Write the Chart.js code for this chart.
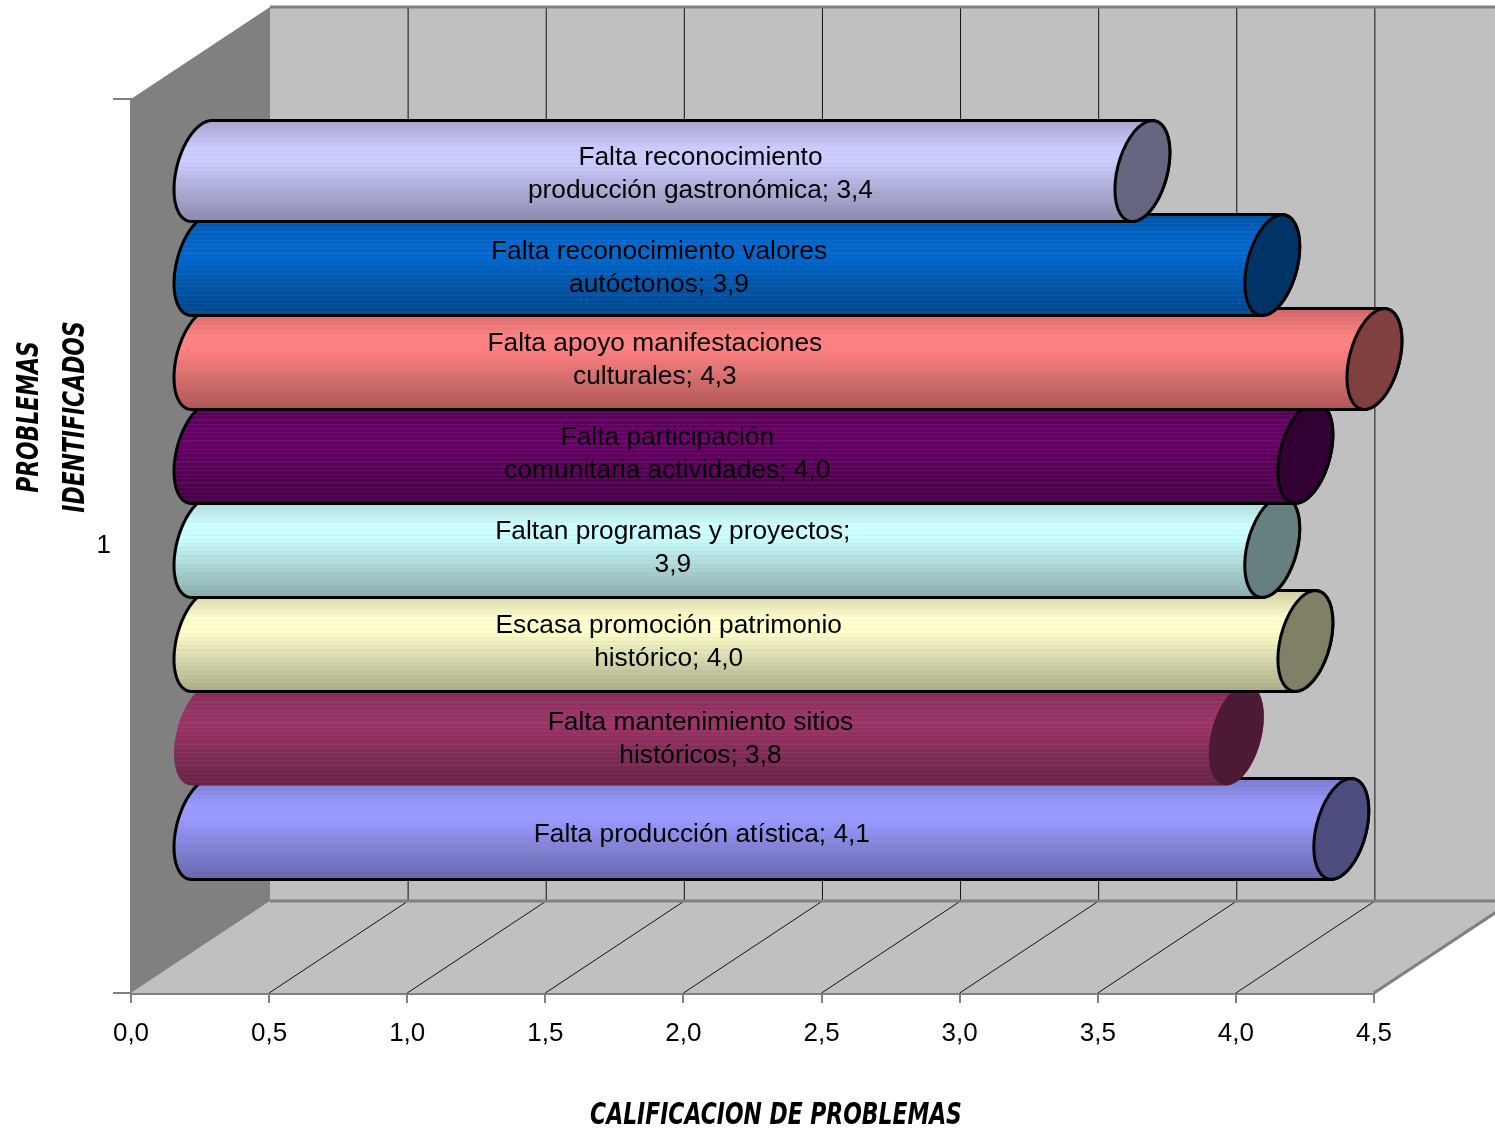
<!DOCTYPE html>
<html lang="es">
<head>
    <meta charset="UTF-8">
    <title>Calificación de problemas</title>
    <script src="https://cdn.jsdelivr.net/npm/chart.js"></script>
    <style>
        body { margin: 0; background: #fff; }
        canvas { display: block; }
    </style>
</head>
<body>
    <canvas id="chart" width="1495" height="1134"></canvas>
    <script>
        // datos
        const categories = ["1"];
        const problems = [
            ["Falta reconocimiento", "producción gastronómica; 3,4"],
            ["Falta reconocimiento valores", "autóctonos; 3,9"],
            ["Falta apoyo manifestaciones", "culturales; 4,3"],
            ["Falta participación", "comunitaria actividades; 4,0"],
            ["Faltan programas y proyectos;", "3,9"],
            ["Escasa promoción patrimonio", "histórico; 4,0"],
            ["Falta mantenimiento sitios", "históricos; 3,8"],
            ["Falta producción atística; 4,1"]
        ];
        const scores = [3.41, 3.88, 4.25, 4.0, 3.88, 4.0, 3.75, 4.13];
        const colors = ["#CCCCFF", "#0066CC", "#FF8080", "#660066", "#CCFFFF", "#FFFFCC", "#993366", "#9999FF"];
        const xTicks = [0, 0.5, 1, 1.5, 2, 2.5, 3, 3.5, 4, 4.5];

        // posicion de las etiquetas (en unidades del eje) y ajuste vertical
        const labelAt = [1.81, 1.66, 1.645, 1.69, 1.71, 1.695, 1.81, 1.815];
        const labelDy = [3.5, 3.5, 1, 1.5, 1.5, 1.5, 4, 6];
        const noOutline = [6];

        // perspectiva
        const DEPTH_X = 139, DEPTH_Y = -92;
        const CAP_X = 27.5, CAP_Y = -18.4;
        const FONT = '"Liberation Sans", Arial, sans-serif';
        const TITLE_FONT = 'italic bold 30px "DejaVu Sans", sans-serif';

        function rgb(hex) {
            return [1, 3, 5].map(i => parseInt(hex.substr(i, 2), 16));
        }
        function shade(c, k) {
            return `rgb(${c.map(v => Math.round(v * k)).join(",")})`;
        }
        function shadeAt(p) {
            if (p < 0.25) return 0.82 + 0.18 * p / 0.25;
            if (p < 0.38) return 1;
            return 1 - 0.34 * (p - 0.38) / 0.62;
        }

        function bodyFill(ctx, top, bottom, hex) {
            const c = rgb(hex);
            const g = ctx.createLinearGradient(0, top, 0, bottom);
            const bands = 24, line = 0.012;
            for (let k = 0; k < bands; k++) {
                const a = k / bands, b = (k + 1) / bands;
                const base = shadeAt(a);
                const stripe = c.map(v => v * base * 0.92 + 170 * 0.08);
                g.addColorStop(a, shade(stripe, 1));
                g.addColorStop(a + line, shade(stripe, 1));
                g.addColorStop(a + line, shade(c, base));
                g.addColorStop(b, shade(c, base));
            }
            return g;
        }

        function arcTo(ctx, cx, cy, h, from, to) {
            const steps = 40;
            for (let i = 0; i <= steps; i++) {
                const t = from + (to - from) * i / steps;
                ctx.lineTo(cx + Math.sin(t) * CAP_X, cy + Math.cos(t) * h + Math.sin(t) * CAP_Y);
            }
        }

        function drawCylinder(ctx, bar, index) {
            const h = bar.height / 2;
            const cy = bar.y + DEPTH_Y / 2;
            const x0 = bar.base + DEPTH_X / 2;
            const x1 = bar.x + DEPTH_X / 2;
            const tb = Math.atan2(CAP_Y, h);
            const tt = tb + Math.PI;
            const r = Math.hypot(h, CAP_Y);
            const hex = colors[index];
            const outline = !noOutline.includes(index);

            ctx.save();
            ctx.lineWidth = 3;
            ctx.strokeStyle = "#000";
            ctx.lineJoin = "round";

            ctx.beginPath();
            arcTo(ctx, x0, cy, h, tt - 2 * Math.PI, tb);
            arcTo(ctx, x1, cy, h, tb, tt);
            ctx.closePath();
            ctx.fillStyle = bodyFill(ctx, cy - r, cy + r, hex);
            ctx.fill();
            if (outline) ctx.stroke();

            ctx.beginPath();
            arcTo(ctx, x1, cy, h, 0, 2 * Math.PI);
            ctx.closePath();
            ctx.fillStyle = shade(rgb(hex), 0.5);
            ctx.fill();
            if (outline) ctx.stroke();
            ctx.restore();
        }

        const walls3d = {
            id: "walls3d",
            beforeDatasetsDraw(chart) {
                const { ctx, chartArea: a, scales } = chart;
                const poly = (pts, fill) => {
                    ctx.beginPath();
                    pts.forEach(p => ctx.lineTo(p[0], p[1]));
                    ctx.closePath();
                    ctx.fillStyle = fill;
                    ctx.fill();
                };
                const L = a.left, R = a.right, T = a.top, B = a.bottom;
                const bx = DEPTH_X, by = DEPTH_Y;
                ctx.save();
                poly([[L + bx, T + by], [R + bx, T + by], [R + bx, B + by], [L + bx, B + by]], "#C0C0C0");
                poly([[L, B], [L + bx, B + by], [R + bx, B + by], [R, B]], "#C0C0C0");
                poly([[L, T], [L + bx, T + by], [L + bx, B + by], [L, B]], "#808080");

                ctx.lineWidth = 1;
                ctx.strokeStyle = "#111";
                xTicks.forEach(v => {
                    const x = scales.x.getPixelForValue(v);
                    ctx.beginPath();
                    if (v > 0) {
                        ctx.moveTo(x, B);
                        ctx.lineTo(x + bx, B + by);
                        ctx.lineTo(x + bx, T + by);
                    }
                    ctx.stroke();
                });

                ctx.strokeStyle = "#808080";
                ctx.lineWidth = 3;
                ctx.beginPath();
                ctx.moveTo(L + bx, T + by);
                ctx.lineTo(R + bx, T + by);
                ctx.moveTo(L + bx, B + by);
                ctx.lineTo(R + bx, B + by);
                ctx.moveTo(R, B);
                ctx.lineTo(R + bx, B + by);
                ctx.stroke();
                ctx.restore();
            },
            beforeDatasetDraw(chart, args) {
                drawCylinder(chart.ctx, args.meta.data[0], args.index);
                return false;
            },
            afterDatasetsDraw(chart) {
                const { ctx, scales } = chart;
                ctx.save();
                ctx.fillStyle = "#000";
                ctx.textAlign = "center";
                ctx.textBaseline = "middle";
                ctx.font = "26.3px " + FONT;
                problems.forEach((lines, i) => {
                    const bar = chart.getDatasetMeta(i).data[0];
                    const x = scales.x.getPixelForValue(labelAt[i]) + DEPTH_X / 2;
                    const y = bar.y + DEPTH_Y / 2 + labelDy[i];
                    lines.forEach((t, n) => {
                        ctx.fillText(t, x, y + (n - (lines.length - 1) / 2) * 33);
                    });
                });

                ctx.font = TITLE_FONT;
                ctx.save();
                ctx.translate(776, 1116);
                ctx.scale(0.73, 1);
                ctx.fillText("CALIFICACION DE PROBLEMAS", 0, 0);
                ctx.restore();
                ctx.translate(30, 417);
                ctx.rotate(-Math.PI / 2);
                ctx.scale(0.73, 1);
                ctx.fillText("PROBLEMAS", 0, 0);
                ctx.translate(0, 46);
                ctx.fillText("IDENTIFICADOS", 0, 0);
                ctx.restore();
            }
        };

        new Chart(document.getElementById("chart"), {
            type: "bar",
            data: {
                labels: categories,
                datasets: problems.map((lines, i) => ({
                    label: lines.join(" "),
                    data: [scores[i]],
                    backgroundColor: colors[i]
                }))
            },
            options: {
                indexAxis: "y",
                responsive: false,
                animation: false,
                barPercentage: 1,
                categoryPercentage: 0.841,
                layout: { padding: { top: 99, right: 121, left: 0, bottom: 0 } },
                plugins: { legend: { display: false }, tooltip: { enabled: false }, title: { display: false } },
                scales: {
                    x: {
                        type: "linear",
                        min: 0,
                        max: 4.5,
                        afterFit(s) { s.height = 141; },
                        afterBuildTicks(s) { s.ticks = xTicks.map(v => ({ value: v })); },
                        grid: { drawOnChartArea: false, drawTicks: true, tickLength: 10, color: "#808080", lineWidth: 2 },
                        border: { color: "#808080", width: 3 },
                        ticks: {
                            color: "#000",
                            padding: 15,
                            maxRotation: 0,
                            font: { family: FONT, size: 26 },
                            callback: v => v.toFixed(1).replace(".", ",")
                        }
                    },
                    y: {
                        afterFit(s) { s.width = 131; },
                        grid: { drawOnChartArea: false, drawTicks: true, tickLength: 18, color: "#808080", lineWidth: 2 },
                        border: { color: "#808080", width: 2 },
                        ticks: { color: "#000", padding: 2, font: { family: FONT, size: 26 } }
                    }
                }
            },
            plugins: [walls3d]
        });
    </script>
</body>
</html>
